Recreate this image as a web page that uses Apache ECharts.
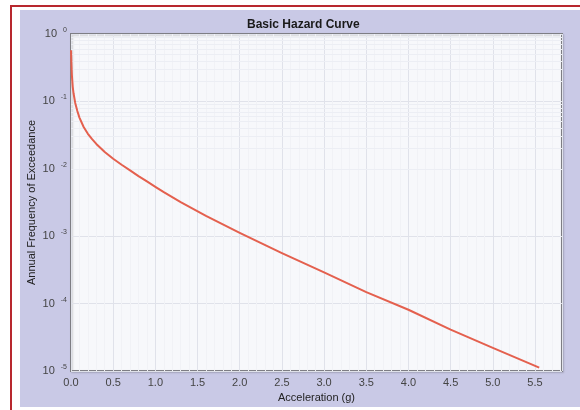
<!DOCTYPE html>
<html>
<head>
<meta charset="utf-8">
<script src="https://cdn.jsdelivr.net/npm/echarts@6/dist/echarts.min.js"></script>
<style>
  html, body { margin: 0; padding: 0; background: #ffffff; width: 580px; height: 410px; overflow: hidden; }
  #frame { position: absolute; left: 10px; top: 5px; width: 570px; height: 410px;
           border-left: 2px solid #b8282e; border-top: 2px solid #b8282e; box-sizing: border-box; }
  #chart { position: absolute; left: 20px; top: 10px; width: 560px; height: 397px; background: #c9c9e6; }
</style>
</head>
<body>
<div id="frame"></div>
<div id="chart"></div>
<script>
// Data
const acceleration = [0, 0.005, 0.01, 0.02, 0.03, 0.05, 0.075, 0.1, 0.15, 0.2, 0.25, 0.3, 0.4, 0.5, 0.6, 0.7, 0.8, 0.9, 1.0, 1.1, 1.3, 1.6, 2.0, 2.5, 3.0, 3.5, 4.0, 4.5, 5.0, 5.55];
const frequency = [0.575, 0.355, 0.25, 0.166, 0.132, 0.095, 0.072, 0.0575, 0.0417, 0.0331, 0.0275, 0.0234, 0.0178, 0.0141, 0.0115, 0.0095, 0.0078, 0.0065, 0.0054, 0.0045, 0.0032, 0.0020, 0.00112, 0.00056, 0.00029, 0.000148, 0.000081, 0.000041, 0.000022, 0.0000112];
const titleText = 'Basic Hazard Curve';
const xName = 'Acceleration (g)';
const yName = 'Annual Frequency of Exceedance';
const yDecades = [-5, -4, -3, -2, -1, 0];
const minorMultiples = [2, 3, 4, 5, 6, 7, 8, 9];

const points = acceleration.map((a, i) => [a, frequency[i]]);
const minorLines = [];
yDecades.slice(0, -1).forEach(d => minorMultiples.forEach(m => minorLines.push({ yAxis: m * Math.pow(10, d) })));

const chart = echarts.init(document.getElementById('chart'), null, { renderer: 'canvas' });
chart.setOption({
  animation: false,
  backgroundColor: 'transparent',
  title: {
    text: titleText, left: 222, top: 4,
    textStyle: { fontFamily: 'Liberation Sans', fontWeight: 'bold', fontSize: 12, color: '#1a1a1a' }
  },
  grid: {
    left: 51, right: 18, top: 24, bottom: 36, show: true,
    outerBoundsMode: 'none', containLabel: false,
    backgroundColor: '#f7f8fb', borderColor: '#7e7e84', borderWidth: 2,
    shadowColor: 'rgba(0,0,0,0.15)', shadowBlur: 2, shadowOffsetX: 1, shadowOffsetY: 1
  },
  xAxis: {
    type: 'value', min: 0, max: 5.82, interval: 0.5,
    name: xName, nameLocation: 'middle', nameGap: 21, nameMoveOverlap: false,
    nameTextStyle: { fontFamily: 'Liberation Sans', fontSize: 11, color: '#222' },
    axisLine: { show: false }, axisTick: { show: false },
    axisLabel: { showMaxLabel: false, margin: 6, fontFamily: 'Liberation Sans', fontSize: 11, color: '#444',
                 formatter: v => v.toFixed(1) },
    splitLine: { show: true, lineStyle: { color: '#e0e2ea', width: 1 } },
    minorTick: { show: false, splitNumber: 5 },
    minorSplitLine: { show: true, lineStyle: { color: '#f1f2f6', width: 1 } }
  },
  yAxis: {
    type: 'log', logBase: 10, min: 1e-5, max: 1,
    name: yName, nameLocation: 'middle', nameGap: 34, nameRotate: 90, nameMoveOverlap: false,
    nameTextStyle: { fontFamily: 'Liberation Sans', fontSize: 11, color: '#222' },
    axisLine: { show: false }, axisTick: { show: false },
    axisLabel: {
      margin: 4, fontFamily: 'Liberation Sans', color: '#444',
      formatter: v => {
        const e = Math.round(Math.log10(v));
        return '{b|10}{s|' + (e === 0 ? '0' : e) + '}';
      },
      rich: {
        b: { fontSize: 11, fontFamily: 'Liberation Sans', color: '#444' },
        s: { fontSize: 7, fontFamily: 'Liberation Sans', color: '#444', padding: [0, 0, 8, 6] }
      }
    },
    splitLine: { show: true, lineStyle: { color: '#e0e2ea', width: 1 } }
  },
  series: [{
    type: 'line', data: points, showSymbol: false, smooth: false,
    lineStyle: { color: '#e4604e', width: 2, join: 'round' },
    markLine: {
      silent: true, symbol: 'none', label: { show: false },
      lineStyle: { color: '#eceef4', width: 1, type: 'solid' },
      data: minorLines, z: 0
    },
    z: 3
  }]
});
</script>
</body>
</html>
